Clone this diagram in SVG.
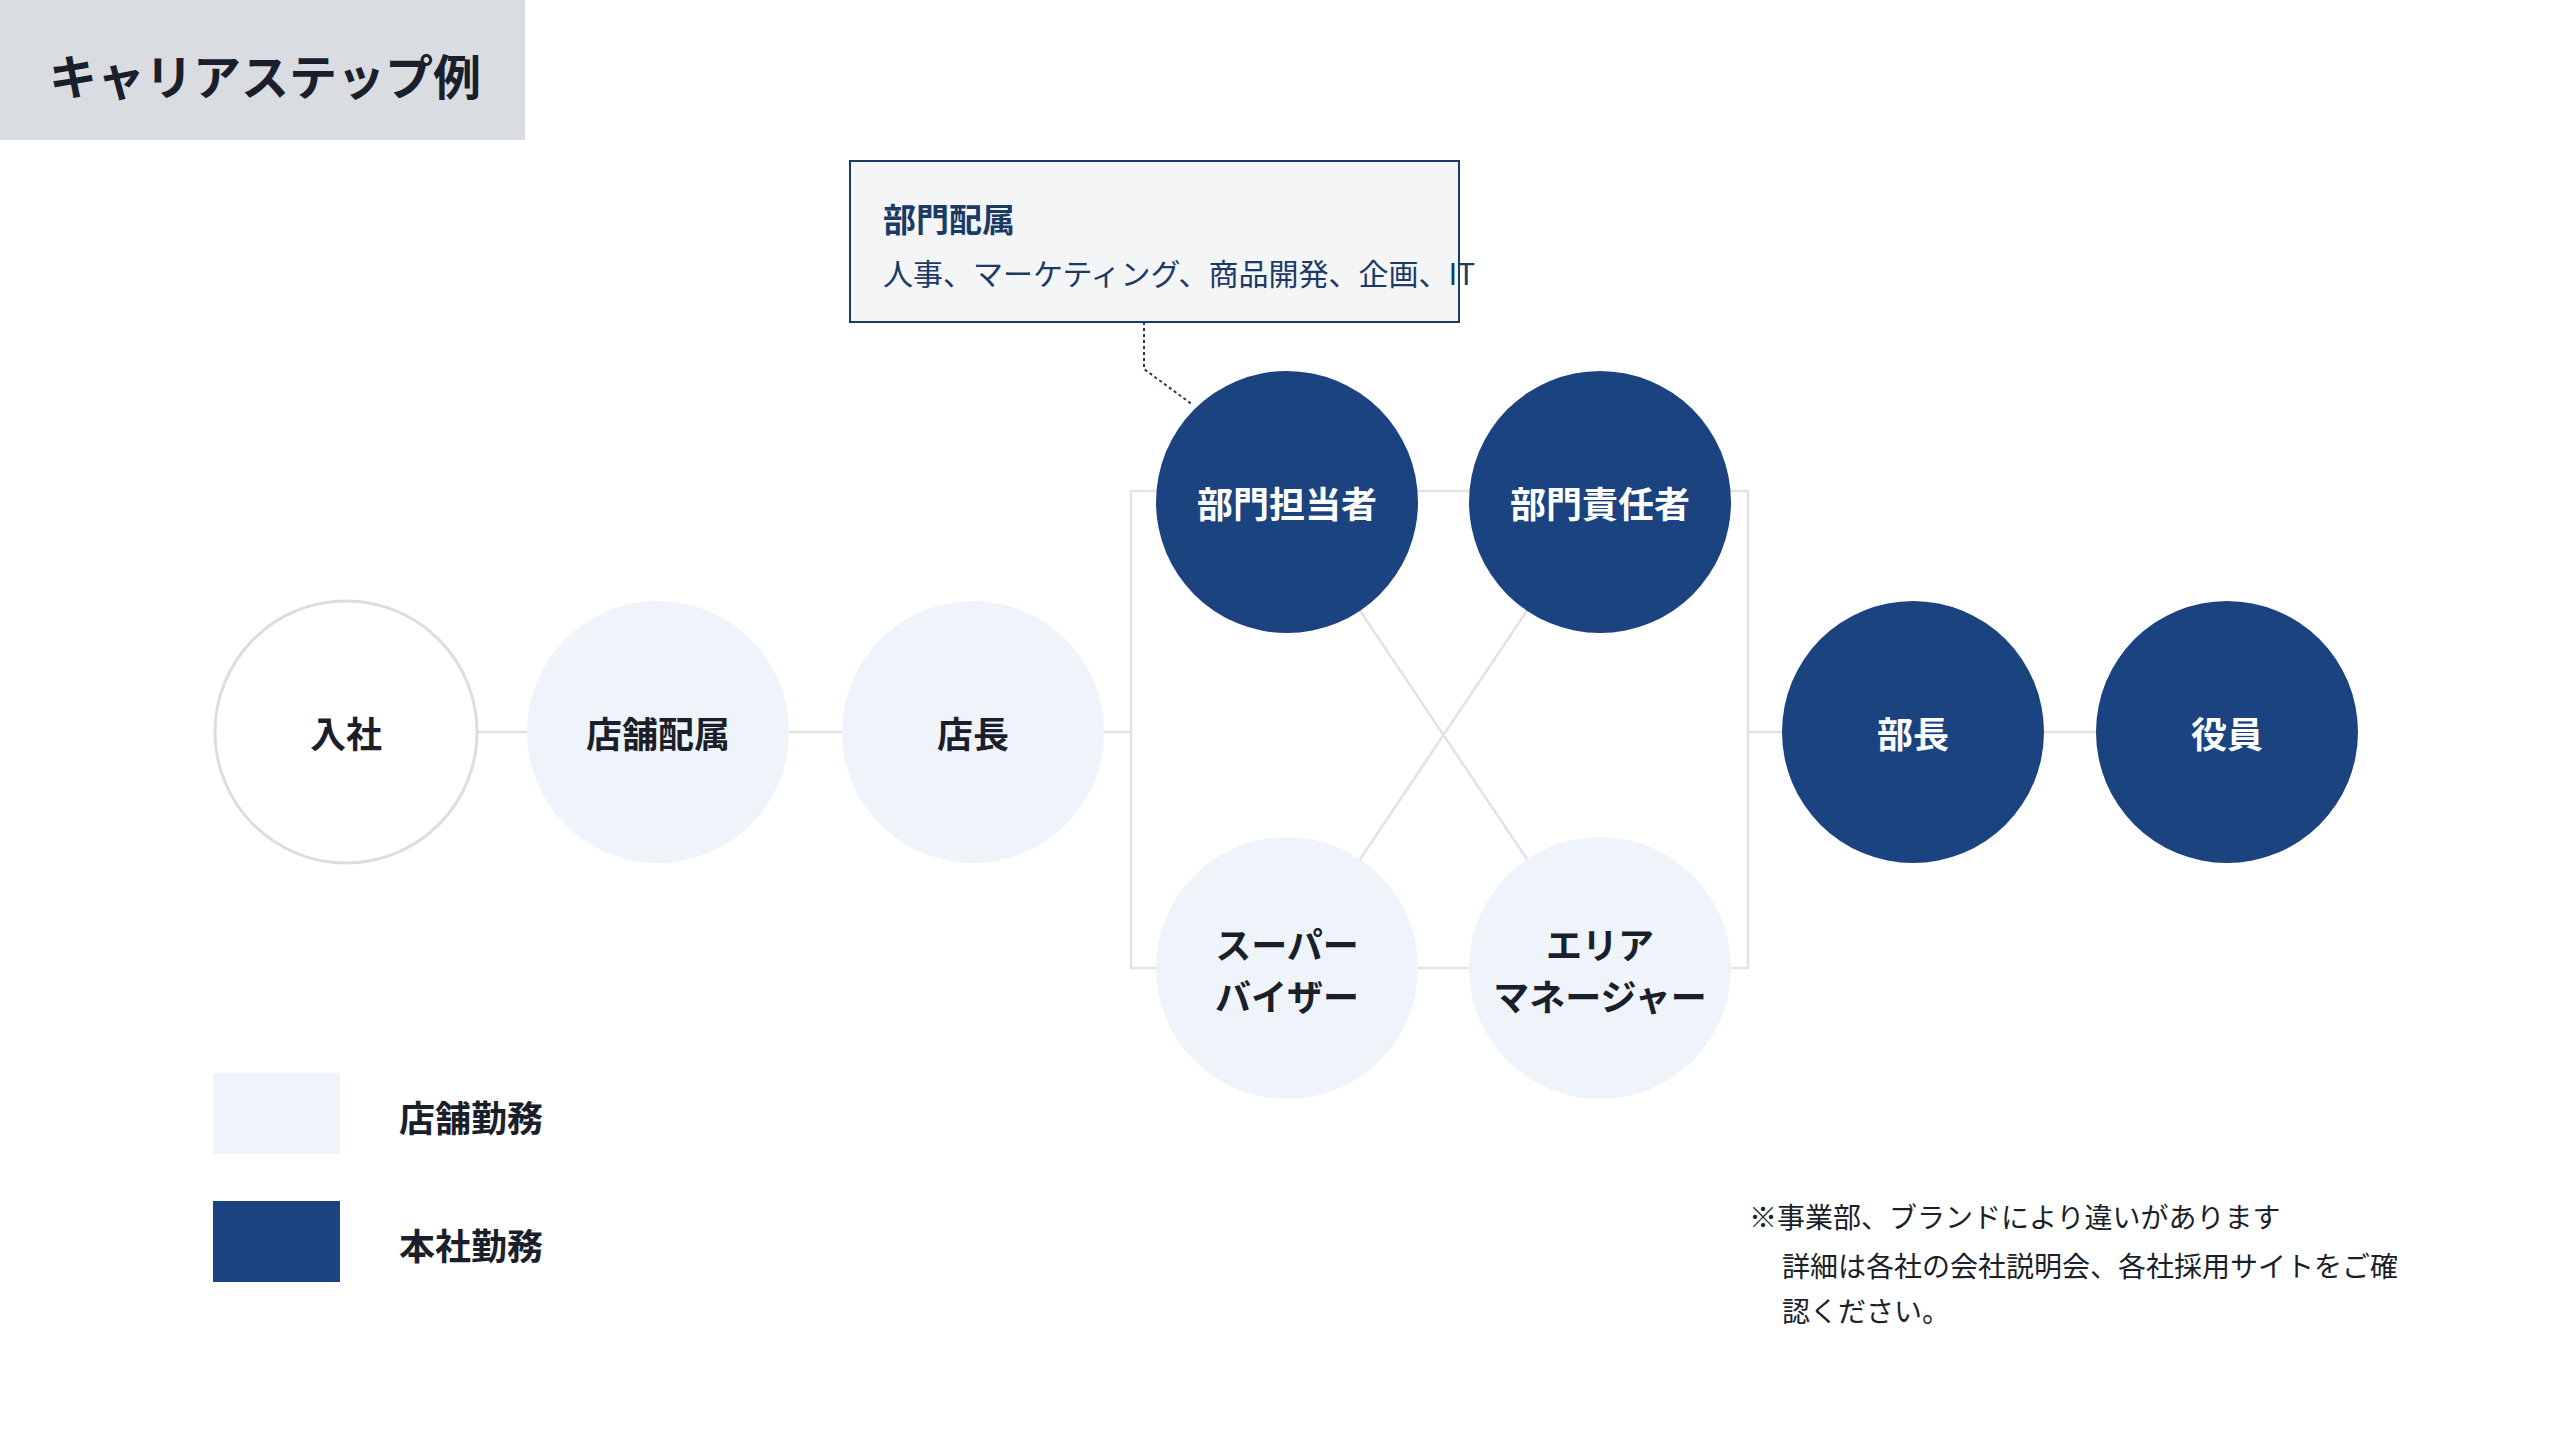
<svg xmlns="http://www.w3.org/2000/svg" width="2560" height="1452" viewBox="0 0 2560 1452">
<style>
text{font-family:"Noto Sans CJK JP","Noto Sans",sans-serif}
.c{text-anchor:middle;dominant-baseline:central;font-size:36px;font-weight:bold}
.dk circle{fill:#1b4380}
.dk text{fill:#fff}
.lt circle{fill:#eef4fa}
.lt text,.wt text{fill:#1a1f2b}
.ln{stroke:#e2e2e2;stroke-width:2.5;fill:none}
.note{font-size:28px;fill:#1a1f2b}
</style>
<rect width="2560" height="1452" fill="#fff"/>
<rect x="0" y="0" width="525" height="140" fill="#d9dde2"/>
<text x="49" y="74" font-size="48" font-weight="bold" fill="#1a1f2b" dominant-baseline="central">キャリアステップ例</text>
<g id="connectors">
<line class="ln" x1="346" y1="732" x2="1131" y2="732"/>
<rect class="ln" x="1131" y="491" width="617" height="477"/>
<line class="ln" x1="1748" y1="732" x2="2227" y2="732"/>
<line class="ln" x1="1287" y1="502" x2="1600" y2="968"/>
<line class="ln" x1="1600" y1="502" x2="1287" y2="968"/>
<polyline points="1144,322 1144,369 1193,405" fill="none" stroke="#1b3a66" stroke-width="2" stroke-dasharray="3,3"/>
</g>
<g id="callout">
<rect x="850" y="161" width="609" height="161" fill="#f3f5f7" stroke="#1b3a66" stroke-width="2"/>
<text x="883" y="218" font-size="33" font-weight="bold" fill="#1b3a66" dominant-baseline="central">部門配属</text>
<text x="883" y="272" font-size="30" fill="#1b3a66" dominant-baseline="central">人事、マーケティング、商品開発、企画、IT</text>
</g>
<g id="n1" class="wt"><circle cx="346" cy="732" r="131" fill="#fff" stroke="#dddddd" stroke-width="3"/><text class="c" x="346" y="732">入社</text></g>
<g id="n2" class="lt"><circle cx="658" cy="732" r="131"/><text class="c" x="658" y="732">店舗配属</text></g>
<g id="n3" class="lt"><circle cx="973" cy="732" r="131"/><text class="c" x="973" y="732">店長</text></g>
<g id="n4" class="dk"><circle cx="1287" cy="502" r="131"/><text class="c" x="1287" y="502">部門担当者</text></g>
<g id="n5" class="dk"><circle cx="1600" cy="502" r="131"/><text class="c" x="1600" y="502">部門責任者</text></g>
<g id="n6" class="lt"><circle cx="1287" cy="968" r="131"/><text class="c" x="1287" y="943">スーパー</text><text class="c" x="1287" y="995">バイザー</text></g>
<g id="n7" class="lt"><circle cx="1600" cy="968" r="131"/><text class="c" x="1600" y="943">エリア</text><text class="c" x="1600" y="995">マネージャー</text></g>
<g id="n8" class="dk"><circle cx="1913" cy="732" r="131"/><text class="c" x="1913" y="732">部長</text></g>
<g id="n9" class="dk"><circle cx="2227" cy="732" r="131"/><text class="c" x="2227" y="732">役員</text></g>
<g id="legend">
<rect x="213" y="1073" width="127" height="81" fill="#eef4fa"/>
<text x="399" y="1116" font-size="36" font-weight="bold" fill="#1a1f2b" dominant-baseline="central">店舗勤務</text>
<rect x="213" y="1201" width="127" height="81" fill="#1b4380"/>
<text x="399" y="1244" font-size="36" font-weight="bold" fill="#1a1f2b" dominant-baseline="central">本社勤務</text>
</g>
<g id="note">
<text class="note" x="1749" y="1216" dominant-baseline="central">※事業部、ブランドにより違いがあります</text>
<text class="note" x="1782" y="1265" dominant-baseline="central">詳細は各社の会社説明会、各社採用サイトをご確</text>
<text class="note" x="1782" y="1310" dominant-baseline="central">認ください。</text>
</g>
</svg>
